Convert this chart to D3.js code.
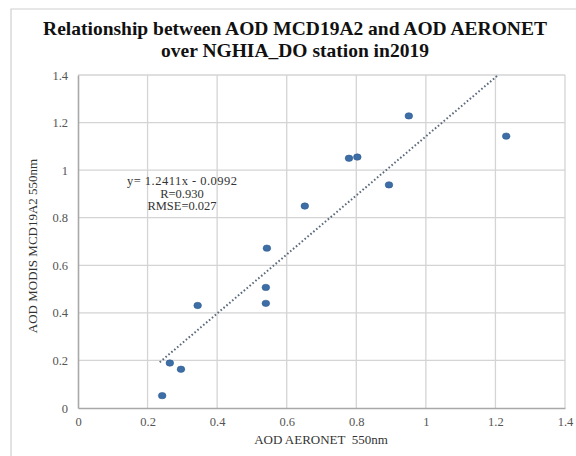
<!DOCTYPE html>
<html>
<head>
<meta charset="utf-8">
<script src="https://cdn.jsdelivr.net/npm/d3@7"></script>
<style>
  body { margin: 0; background: #fff; }
</style>
</head>
<body>
<div id="chart"></div>
<script>
// AOD AERONET (x) vs AOD MODIS MCD19A2 (y), both 550nm
var aeronet = [0.242, 0.264, 0.296, 0.344, 0.540, 0.540, 0.543, 0.652, 0.779, 0.803, 0.894, 0.951, 1.231];
var modis   = [0.052, 0.189, 0.163, 0.431, 0.507, 0.440, 0.672, 0.849, 1.050, 1.055, 0.938, 1.228, 1.143];
var xTicks = [0, 0.2, 0.4, 0.6, 0.8, 1, 1.2, 1.4];
var yTicks = [0, 0.2, 0.4, 0.6, 0.8, 1, 1.2, 1.4];
var slope = 1.2411, intercept = -0.0992;
var trendFrom = 0.235;
var statLines = ["y= 1.2411x - 0.0992", "R=0.930", "RMSE=0.027"];

var serif = "'Times New Roman', 'Liberation Serif', 'DejaVu Serif', serif";
var width = 576, height = 456;
var margin = {top: 75, right: 11, bottom: 48, left: 78};

var svg = d3.select("#chart").append("svg")
    .attr("width", width)
    .attr("height", height)
    .style("font-family", serif);

// outer frame (top + left only visible)
svg.append("path")
    .attr("d", "M11,456 L11,9 L576,9")
    .attr("fill", "none")
    .attr("stroke", "#cfcfcf")
    .attr("stroke-width", 1.2);

var title = svg.append("text")
    .style("font-family", serif)
    .attr("text-anchor", "middle")
    .attr("font-weight", "bold")
    .attr("font-size", "19.5px")
    .attr("fill", "#111");
title.append("tspan").attr("x", 295).attr("y", 35).text("Relationship between AOD MCD19A2 and AOD AERONET");
title.append("tspan").attr("x", 295).attr("y", 57).text("over NGHIA_DO station in2019");

var x = d3.scaleLinear().domain([0, 1.4]).range([margin.left, width - margin.right]),
    y = d3.scaleLinear().domain([0, 1.4]).range([height - margin.bottom, margin.top]);

var g = svg.append("g");

// grid
g.selectAll(".vgrid")
    .data(xTicks.slice(1))
    .enter().append("line")
    .attr("x1", function(d) { return x(d); })
    .attr("x2", function(d) { return x(d); })
    .attr("y1", y(0))
    .attr("y2", y(1.4))
    .attr("stroke", "#d4d4d4")
    .attr("stroke-width", 1.3);

g.selectAll(".hgrid")
    .data(yTicks.slice(1))
    .enter().append("line")
    .attr("x1", x(0))
    .attr("x2", x(1.4))
    .attr("y1", function(d) { return y(d); })
    .attr("y2", function(d) { return y(d); })
    .attr("stroke", "#d4d4d4")
    .attr("stroke-width", 1.3);

// axes
var xAxis = g.append("g")
    .attr("transform", "translate(0," + y(0) + ")")
    .call(d3.axisBottom(x).tickValues(xTicks).tickSize(0).tickPadding(9)
      .tickFormat(function(d) { return d3.format("")(d); }));
var yAxis = g.append("g")
    .attr("transform", "translate(" + x(0) + ",0)")
    .call(d3.axisLeft(y).tickValues(yTicks).tickSize(0).tickPadding(10)
      .tickFormat(function(d) { return d3.format("")(d); }));

[xAxis, yAxis].forEach(function(a) {
  a.attr("font-family", null);
  a.select(".domain").attr("stroke", "#a8a8a8").attr("stroke-width", 1.6);
  a.selectAll("text")
    .style("font-family", serif)
    .attr("font-size", "12.5px")
    .attr("fill", "#555");
});

// axis titles
svg.append("text")
    .style("font-family", serif)
    .attr("x", 321)
    .attr("y", 444)
    .attr("text-anchor", "middle")
    .attr("font-size", "13px")
    .attr("fill", "#333")
    .style("white-space", "pre")
    .text("AOD AERONET  550nm");

svg.append("text")
    .style("font-family", serif)
    .attr("transform", "translate(37,246) rotate(-90)")
    .attr("text-anchor", "middle")
    .attr("font-size", "13px")
    .attr("fill", "#333")
    .text("AOD MODIS MCD19A2 550nm");

// trend line, clipped at the top of the axis
var trendTo = (1.4 - intercept) / slope;
g.append("line")
    .attr("x1", x(trendFrom))
    .attr("y1", y(slope * trendFrom + intercept))
    .attr("x2", x(trendTo))
    .attr("y2", y(1.4))
    .attr("stroke", "#5b6b7c")
    .attr("stroke-width", 2)
    .attr("stroke-dasharray", "1.6,2.2");

// points
g.selectAll(".dot")
    .data(aeronet)
    .enter().append("ellipse")
    .attr("cx", function(d) { return x(d); })
    .attr("cy", function(d, i) { return y(modis[i]); })
    .attr("rx", 3.8)
    .attr("ry", 3.2)
    .attr("fill", "#3e6ea6")
    .attr("stroke", "#2f5c92")
    .attr("stroke-width", 0.6);

// equation box
svg.append("g").selectAll("text")
    .data(statLines)
    .enter().append("text")
    .style("font-family", serif)
    .attr("x", 182)
    .attr("y", function(d, i) { return 185 + i * 12.5; })
    .attr("text-anchor", "middle")
    .attr("font-size", "12.5px")
    .attr("textLength", function(d, i) { return i === 0 ? 110 : null; })
    .attr("fill", "#333")
    .text(function(d) { return d; });
</script>
</body>
</html>
